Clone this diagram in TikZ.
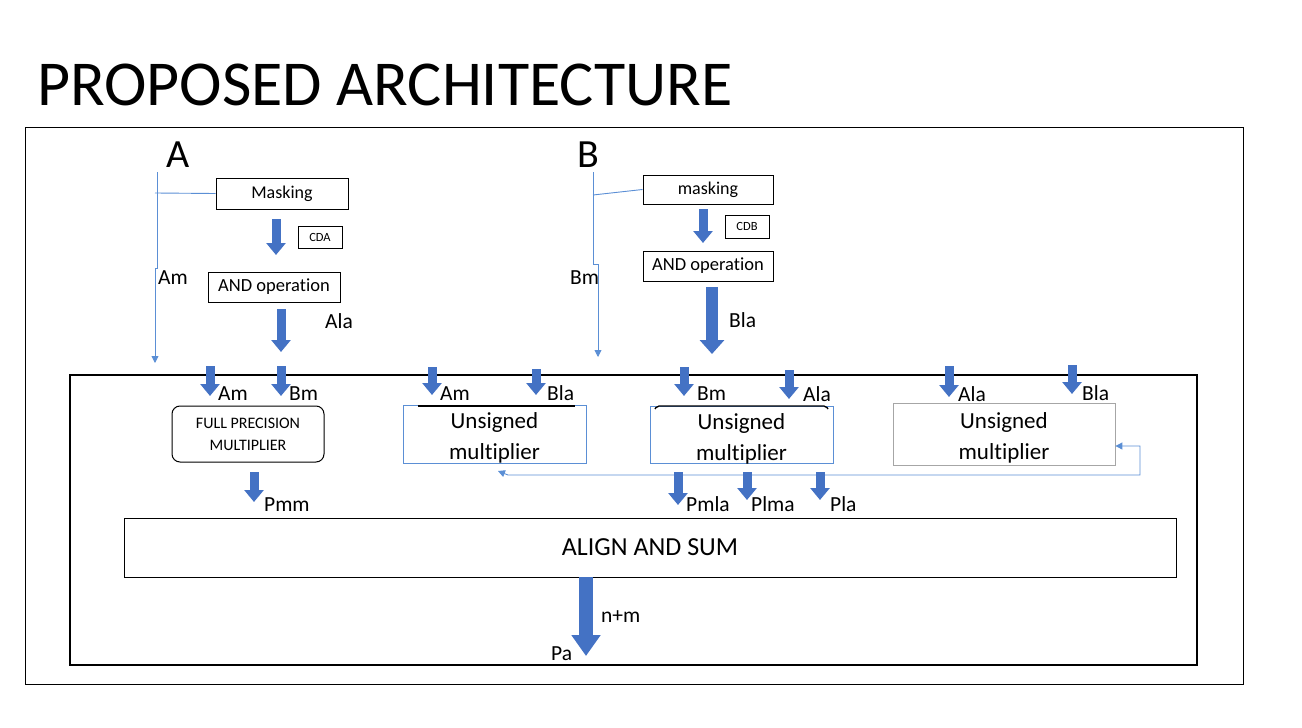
\documentclass[tikz,border=0pt]{standalone}
\usepackage{fontspec}
\setmainfont{Carlito}[Ligatures=NoCommon]
\usetikzlibrary{arrows.meta}
\definecolor{officeblue}{HTML}{4472C4}
\definecolor{lineblue}{HTML}{5B8FD5}
\definecolor{boxgray}{HTML}{A6A6A6}
\newcommand{\fsz}[1]{\fontsize{#1}{#1}\selectfont}
\newcommand{\umtext}{\rule{0pt}{23pt}Unsigned\\[8pt]multiplier}
\tikzset{
  box/.style={draw, line width=1pt, inner sep=0pt},
  lbl/.style={anchor=base west, inner sep=0pt, font=\fsz{21.5}},
  fat/.style={officeblue, line width=9pt, -{Triangle[width=19pt,length=12pt]}},
  thinblue/.style={lineblue, line width=0.9pt}
}
\begin{document}
\begin{tikzpicture}[x=1pt,y=-1pt]
    \useasboundingbox (0,0) rectangle (1302,728);
    \node[lbl, font=\fsz{64}] (title) at (37,105) {PROPOSED ARCHITECTURE};
    \draw[line width=1pt] (25,127) rectangle (1243,684); % outer frame
    \draw[line width=1.2pt] (70,375) rectangle (1197,665); % inner frame

    % input A
    \node[lbl, font=\fsz{40}] (inA) at (166,167) {A};
    \node[box, minimum width=132, minimum height=31, font=\fsz{18}] (maskA) at (282,193.5) {Masking};
    \node[box, minimum width=44, minimum height=22, font=\fsz{12.5}] (cda) at (320,237) {CDA};
    \node[box, minimum width=132, minimum height=30, font=\fsz{18.5}] (andA) at (274,287) {AND operation};
    \draw[thinblue, -{Triangle[width=7pt,length=7pt]}] (157,172) -- (157,268) -- (155,268) -- (155,363);
    \draw[thinblue] (155,193) -- (maskA.west);
    \draw[fat] (276,219) -- (276,255);
    \draw[fat] (281,309) -- (281,352);
    \node[lbl] (amA) at (158,284) {Am};
    \node[lbl] (alaA) at (325,328) {Ala};

    % input B
    \node[lbl, font=\fsz{40}] (inB) at (577,167) {B};
    \node[box, minimum width=130, minimum height=29, font=\fsz{18}] (maskB) at (708,189.5) {masking};
    \node[box, minimum width=44, minimum height=23, font=\fsz{12.5}] (cdb) at (747,226.5) {CDB};
    \node[box, minimum width=130, minimum height=30, font=\fsz{18.5}] (andB) at (708,266) {AND operation};
    \draw[thinblue, -{Triangle[width=7pt,length=7pt]}] (593,172) -- (593,264) -- (598,264) -- (598,357);
    \draw[thinblue] (593,195) -- (maskB.west);
    \draw[fat] (703,209) -- (703,243);
    \draw[officeblue, line width=12pt, -{Triangle[width=24pt,length=14pt]}] (712,287) -- (712,354);
    \node[lbl] (bmB) at (570,284) {Bm};
    \node[lbl] (blaB) at (729,327) {Bla};

    % multipliers
    \node[box, rounded corners=8pt, minimum width=152, minimum height=56, align=center, font=\fsz{16}] (fpm) at (248,434) {FULL PRECISION\\[6pt]MULTIPLIER};
    \node[box, draw=lineblue, line width=0.8pt, minimum width=183, minimum height=55, align=center, font=\fsz{23}] (um1) at (494.5,434.5) {\umtext};
    \node[box, draw=lineblue, line width=0.8pt, minimum width=183, minimum height=56, align=center, font=\fsz{23}] (um2) at (741.5,435) {\umtext};
    \node[box, draw=boxgray, line width=0.8pt, minimum width=222, minimum height=62, align=center, font=\fsz{23}] (um3) at (1004,434) {\umtext};
    \draw[line width=1.3pt] (418,406) -- (575,406);
    \draw[line width=1.3pt, rounded corners=2pt] (655,409) -- (657,406) -- (826,406) -- (828,409);

    \draw[fat] (210,366) -- (210,396);
    \draw[fat] (281,366) -- (281,396);
    \draw[fat] (432,367) -- (432,395);
    \draw[fat] (536,369) -- (536,395);
    \draw[fat] (684,367) -- (684,396);
    \draw[fat] (789,370) -- (789,399);
    \draw[fat] (949,366) -- (949,397);
    \draw[fat] (1072,365) -- (1072,394);
    \node[lbl] (l1) at (218,400) {Am};
    \node[lbl] (l2) at (289,400) {Bm};
    \node[lbl] (l3) at (440,400) {Am};
    \node[lbl] (l4) at (547,400) {Bla};
    \node[lbl] (l5) at (697,400) {Bm};
    \node[lbl] (l6) at (803,401) {Ala};
    \node[lbl] (l7) at (958,401) {Ala};
    \node[lbl] (l8) at (1082,400) {Bla};

    % feedback line
    \draw[thinblue, {Triangle[width=7pt,length=7pt]}-{Triangle[width=7pt,length=7pt]}] (498,471) -- (508,475) -- (1140,475) -- (1140,446) -- ([yshift=-12pt]um3.east);

    % products
    \draw[fat] (254,472) -- (254,502);
    \draw[fat] (678,472) -- (678,505);
    \draw[fat] (747,472) -- (747,500);
    \draw[fat] (820,472) -- (820,500);
    \node[lbl] (p1) at (264,511) {Pmm};
    \node[lbl] (p2) at (686,511) {Pmla};
    \node[lbl] (p3) at (751,511) {Plma};
    \node[lbl] (p4) at (830,511) {Pla};

    % align and sum
    \node[box, minimum width=1052, minimum height=59, font=\fsz{26}] (sum) at (650,547.5) {ALIGN AND SUM};
    \draw[officeblue, line width=14pt, -{Triangle[width=28pt,length=21pt]}] (586,577) -- (586,656);
    \node[lbl] (nm) at (601,622) {n+m};
    \node[lbl] (pa) at (551,660) {Pa};
\end{tikzpicture}
\end{document}
